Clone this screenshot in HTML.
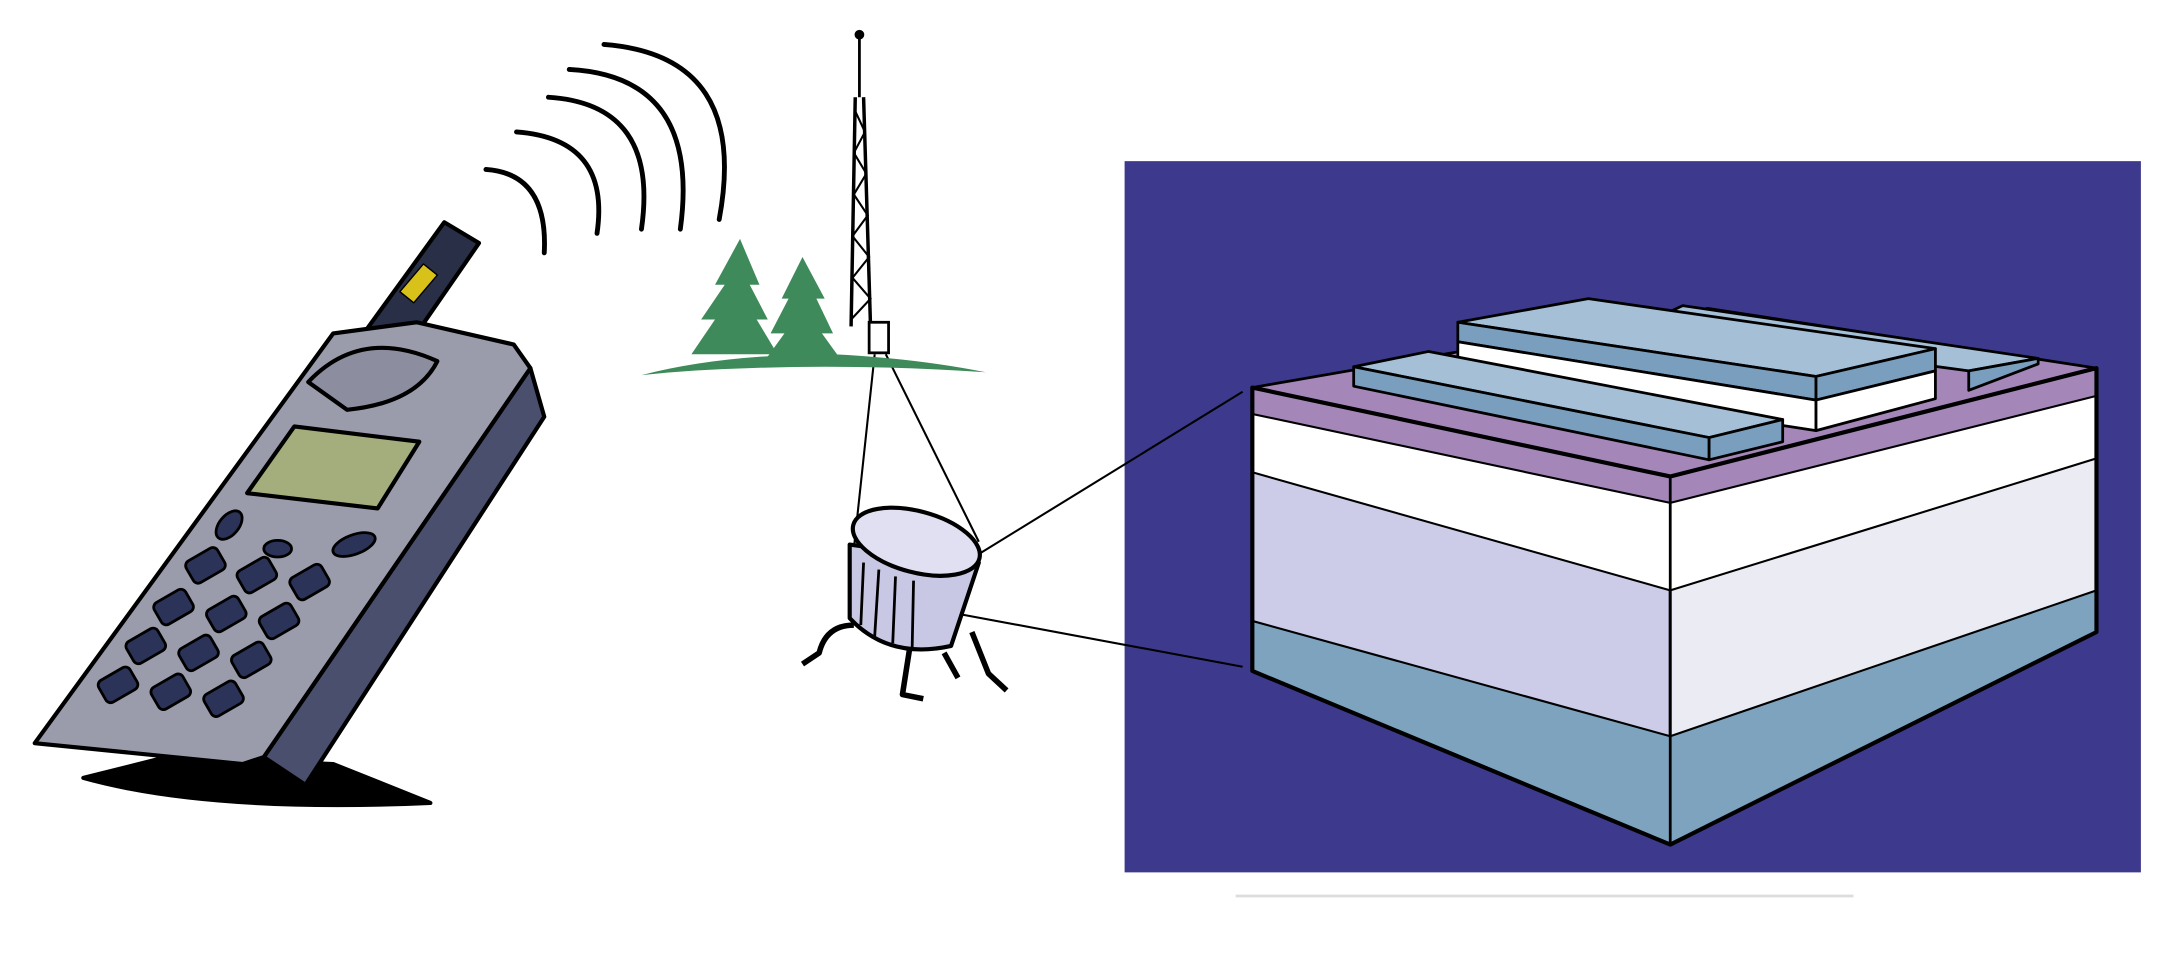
<!DOCTYPE html>
<html><head><style>html,body{margin:0;padding:0;background:#fff;}svg{display:block}</style></head>
<body>
<svg width="2177" height="971" viewBox="0 0 1568 699" preserveAspectRatio="none" xmlns="http://www.w3.org/2000/svg">
<rect width="1568" height="699" fill="#fff"/>
<line x1="890" y1="645" x2="1335" y2="645" stroke="#ddd" stroke-width="2"/>
<rect x="810" y="116" width="732" height="512" fill="#3d3a8e"/>
<g stroke="#000" stroke-width="2" stroke-linejoin="round">
<polygon points="902,279 1203,343 1203,608 902,483" fill="#cccbe8"/>
<polygon points="1203,343 1510,265 1510,455 1203,608" fill="#ebebf3"/>
<polygon points="902,447 1203,530 1203,608 902,483" fill="#7da3be" stroke="none"/>
<polygon points="1203,530 1510,425 1510,455 1203,608" fill="#7da3be" stroke="none"/>
<polygon points="902,298 1203,362 1203,425 902,340" fill="#fff" stroke="none"/>
<polygon points="1203,362 1510,285 1510,330 1203,425" fill="#fff" stroke="none"/>
<polygon points="902,279 1203,343 1203,362 902,298" fill="#a487b8" stroke="none"/>
<polygon points="1203,343 1510,265 1510,285 1203,362" fill="#a487b8" stroke="none"/>
<polygon points="902,279 1230,222 1510,265 1203,343" fill="#a487b8"/>
<polyline points="902,298 1203,362 1510,285" fill="none" stroke-width="1.5"/>
<polyline points="902,340 1203,425 1510,330" fill="none" stroke-width="1.5"/>
<polyline points="902,447 1203,530 1510,425" fill="none" stroke-width="1.5"/>
<polygon points="902,279 1203,343 1510,265 1510,455 1203,608 902,483" fill="none" stroke-width="3"/>
<line x1="1203" y1="343" x2="1203" y2="608"/>
<!-- slab 3 -->
<polygon points="1212,220 1468,258 1418,267 1180,235" fill="#a5c0d6"/>
<polygon points="1418,267 1468,258 1468,262 1418,281" fill="#7a9fbe"/>
<!-- slab 2 -->
<polygon points="1050,232 1144,215 1394,251 1308,271" fill="#a5c0d6"/>
<polygon points="1050,232 1308,271 1308,288 1050,246" fill="#7a9fbe"/>
<polygon points="1308,271 1394,251 1394,267 1308,288" fill="#7a9fbe"/>
<polygon points="1050,246 1308,288 1308,310 1050,270" fill="#fff"/>
<polygon points="1308,288 1394,267 1394,287 1308,310" fill="#fff"/>
<!-- slab 1 -->
<polygon points="975,264 1029,253 1284,302 1231,315" fill="#a5c0d6"/>
<polygon points="975,264 1231,315 1231,331 975,278" fill="#7a9fbe"/>
<polygon points="1231,315 1284,302 1284,318 1231,331" fill="#7a9fbe"/>
</g>
<line x1="695" y1="405" x2="895" y2="282" stroke="#000" stroke-width="1.5"/>
<line x1="680" y1="440" x2="895" y2="480" stroke="#000" stroke-width="1.5"/>
<g stroke="#000" fill="none">
<line x1="619" y1="25" x2="619" y2="70" stroke-width="2"/>
<circle cx="619" cy="25" r="3" fill="#000"/>
<line x1="616" y1="70" x2="613" y2="235" stroke-width="2.5"/>
<line x1="622" y1="70" x2="627" y2="235" stroke-width="2.5"/>
<path d="M616,80 L623,95 L615,110 L624,125 L615,140 L625,155 L614,170 L626,185 L614,200 L627,215 L613,230" stroke-width="1.5"/>
<rect x="626" y="232" width="14" height="22" fill="#fff" stroke-width="2"/>
<line x1="630" y1="255" x2="615" y2="395" stroke-width="1.5"/>
<line x1="638" y1="255" x2="705" y2="390" stroke-width="1.5"/>
</g>
<g fill="#3f8a5a">
<path d="M462,270 Q520,255 600,255 Q660,258 710,268 Q620,262 540,265 Q500,266 462,270Z"/>
<polygon points="533,172 515,205 522,205 505,230 515,230 498,255 560,255 545,230 553,230 540,205 547,205"/>
<polygon points="578,185 563,215 568,215 555,240 565,240 552,258 605,258 592,240 600,240 588,215 594,215"/>
</g>
<g stroke="#000" stroke-width="3" stroke-linejoin="round">
<path d="M612,392 L612,445 Q640,475 685,465 L705,405 Z" fill="#c8c8e4"/>
<ellipse cx="660" cy="390" rx="47" ry="22" fill="#e0e0f2" transform="rotate(15 660 390)"/>
<g stroke-width="2" fill="none"><line x1="622" y1="405" x2="620" y2="450"/><line x1="633" y1="410" x2="630" y2="458"/><line x1="645" y1="415" x2="643" y2="463"/><line x1="658" y1="418" x2="657" y2="466"/></g>
<g fill="none" stroke-width="4"><path d="M615,450 Q595,450 590,470 L578,478"/><path d="M655,468 L650,500 L665,503"/><path d="M700,455 L712,485 L725,497"/><path d="M680,470 L690,488"/></g>
</g>
<g fill="none" stroke="#000" stroke-width="3.5" stroke-linecap="round">
<path d="M350,122 Q395,125 392,182"/>
<path d="M372,95 Q440,100 430,168"/>
<path d="M395,70 Q475,75 462,165"/>
<path d="M410,50 Q505,55 490,165"/>
<path d="M435,32 Q540,40 518,158"/>
</g>
<g stroke="#000" stroke-width="3" stroke-linejoin="round">
<path d="M60,560 Q150,585 310,578 L240,550 L120,545Z" fill="#000"/>
<polygon points="262,240 320,160 345,175 300,240" fill="#2a2f48"/>
<polygon points="288,210 305,190 315,198 298,218" fill="#d8c21a" stroke-width="1"/>
<polygon points="190,545 382,265 392,300 220,565" fill="#4a4f6e"/>
<polygon points="25,535 240,240 300,232 370,248 382,265 190,545 175,550" fill="#9a9cab"/>
<path d="M222,275 Q260,235 315,260 Q300,290 250,295 Z" fill="#8c8ea0"/>
<polygon points="178,355 212,307 302,318 272,366" fill="#a4ad7c"/>
<g fill="#2c3358" stroke-width="2">
<ellipse cx="165" cy="378" rx="12" ry="7" transform="rotate(-50 165 378)"/>
<ellipse cx="255" cy="392" rx="16" ry="7" transform="rotate(-20 255 392)"/>
<ellipse cx="200" cy="395" rx="10" ry="6"/>
<rect x="135" y="398" width="26" height="18" rx="4" transform="rotate(-30 148 407)"/>
<rect x="172" y="405" width="26" height="18" rx="4" transform="rotate(-30 185 414)"/>
<rect x="210" y="410" width="26" height="18" rx="4" transform="rotate(-30 223 419)"/>
<rect x="112" y="428" width="26" height="18" rx="4" transform="rotate(-30 125 437)"/>
<rect x="150" y="433" width="26" height="18" rx="4" transform="rotate(-30 163 442)"/>
<rect x="188" y="438" width="26" height="18" rx="4" transform="rotate(-30 201 447)"/>
<rect x="92" y="456" width="26" height="18" rx="4" transform="rotate(-30 105 465)"/>
<rect x="130" y="461" width="26" height="18" rx="4" transform="rotate(-30 143 470)"/>
<rect x="168" y="466" width="26" height="18" rx="4" transform="rotate(-30 181 475)"/>
<rect x="72" y="484" width="26" height="18" rx="4" transform="rotate(-30 85 493)"/>
<rect x="110" y="489" width="26" height="18" rx="4" transform="rotate(-30 123 498)"/>
<rect x="148" y="494" width="26" height="18" rx="4" transform="rotate(-30 161 503)"/>
</g>
</g>
</svg>
</body></html>
